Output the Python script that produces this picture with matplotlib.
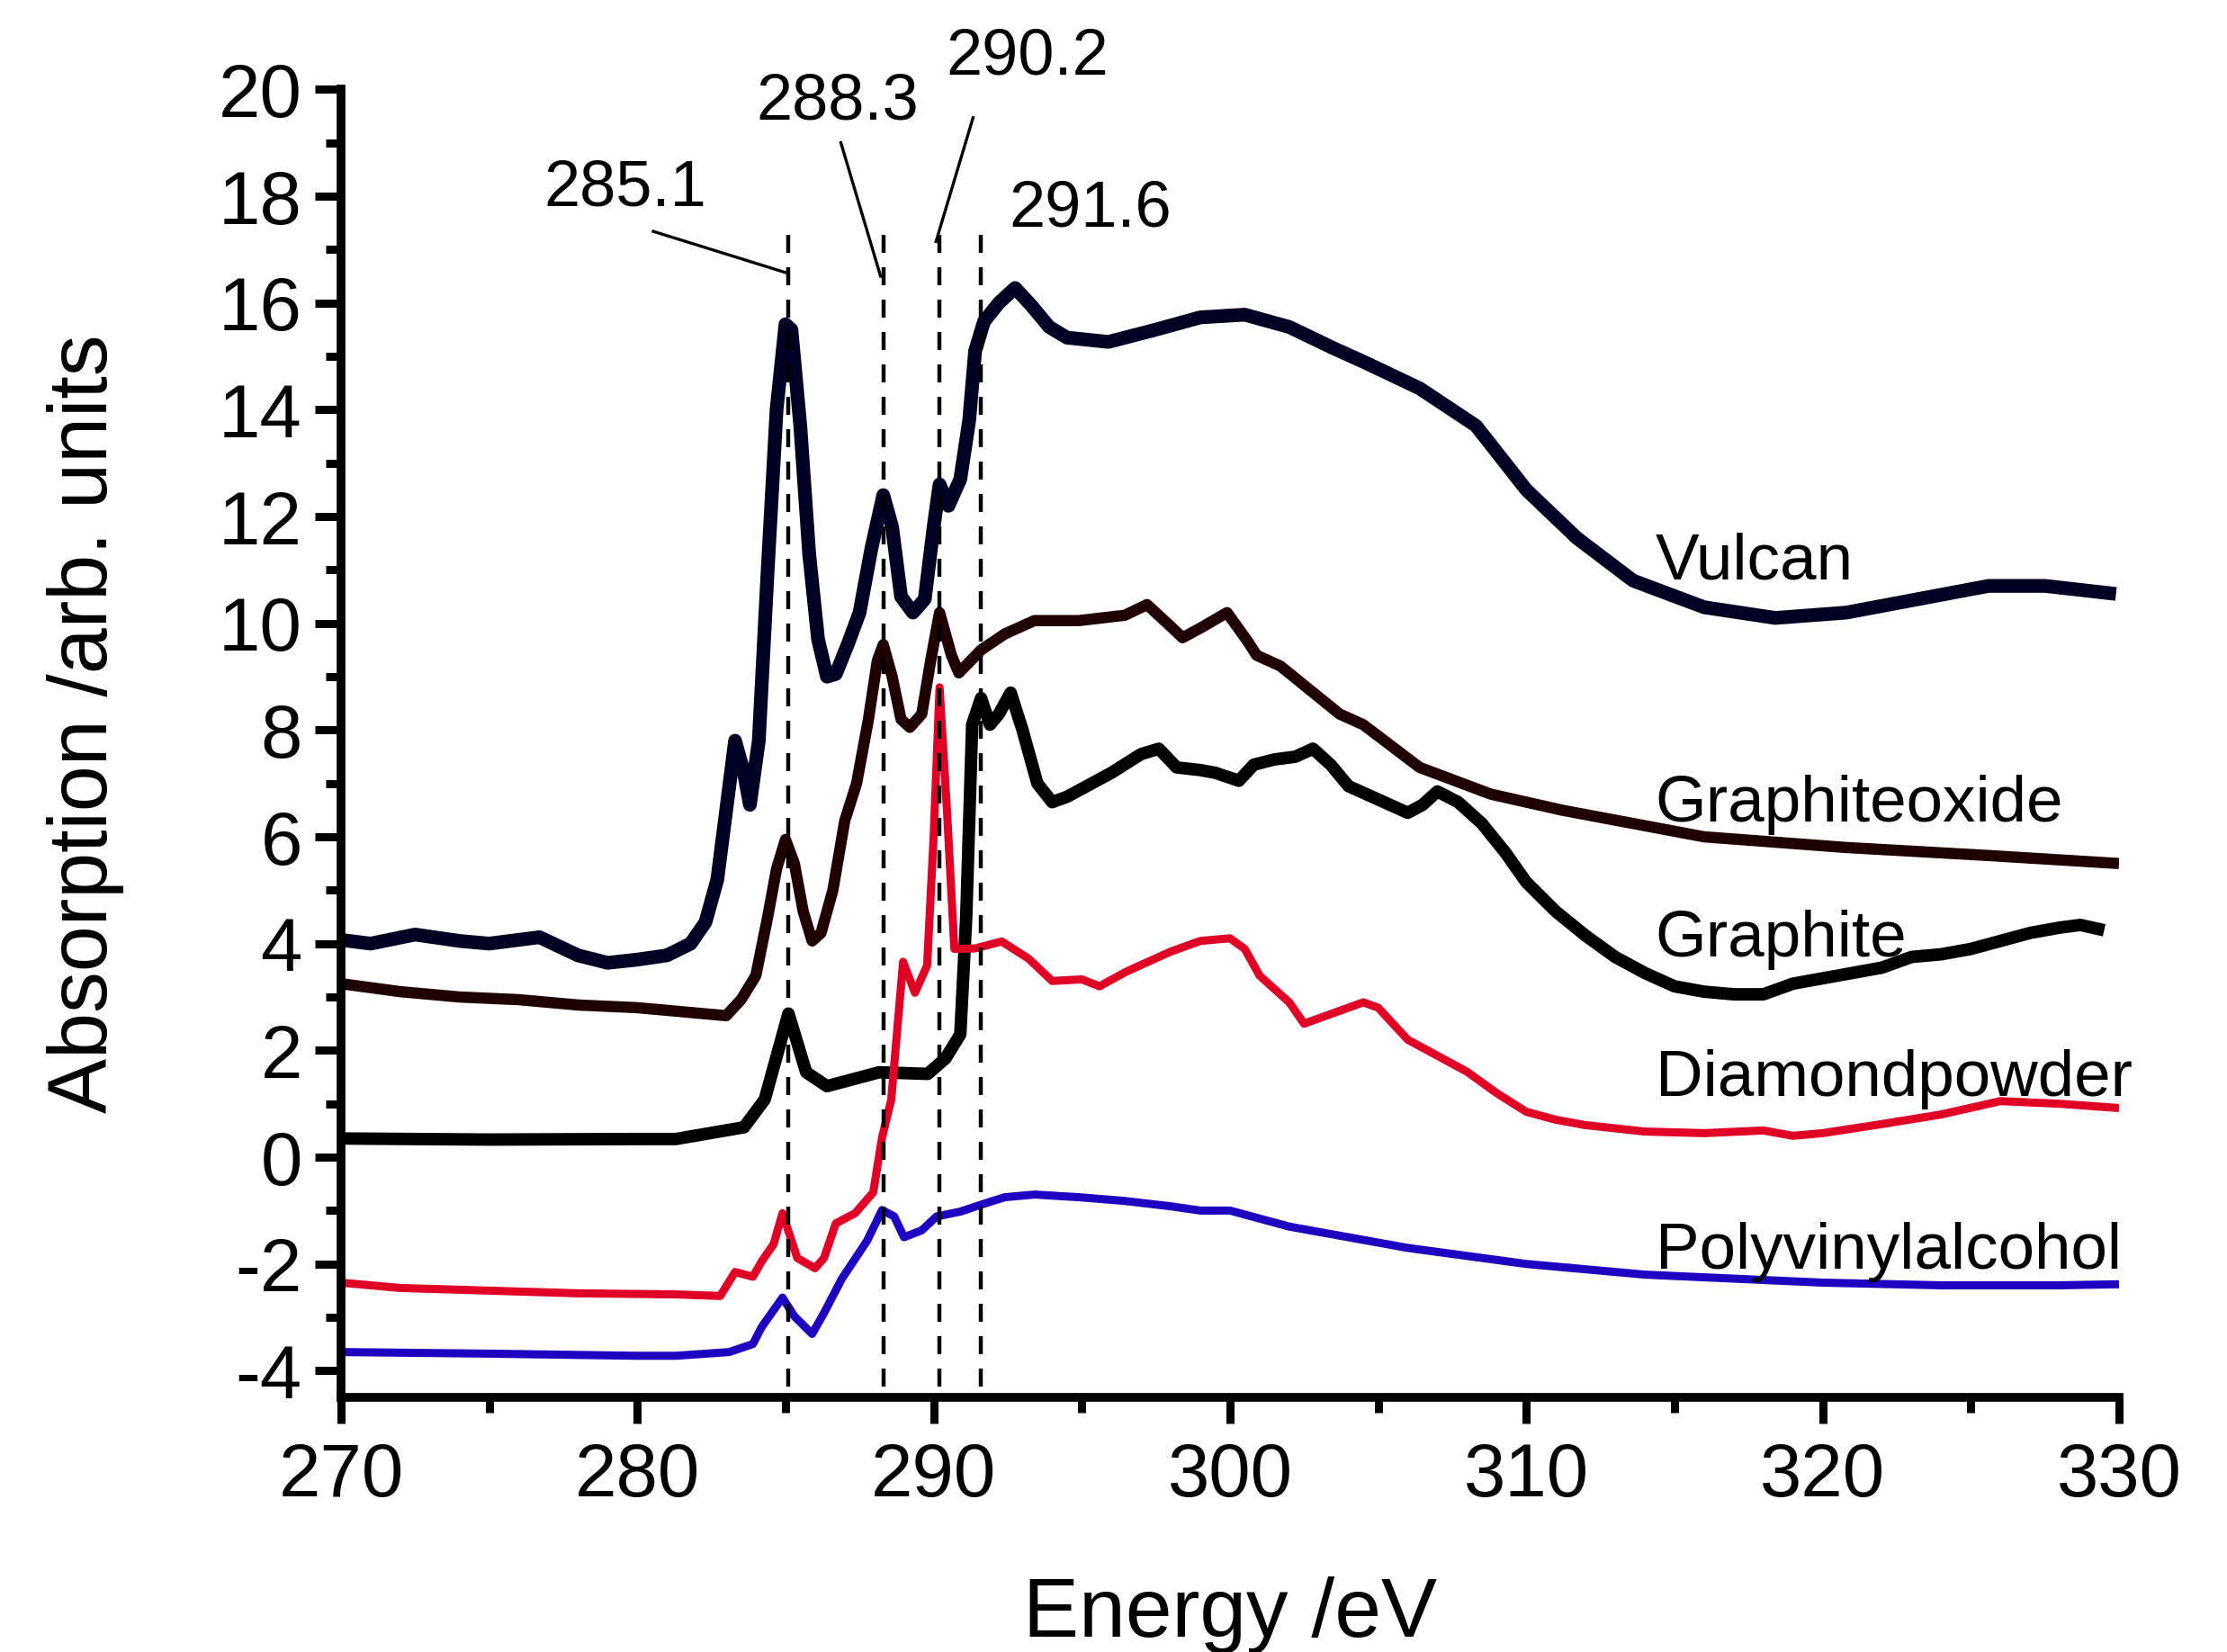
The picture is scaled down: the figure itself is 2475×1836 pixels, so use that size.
import matplotlib
matplotlib.use("Agg")
import matplotlib.pyplot as plt
from matplotlib.ticker import MultipleLocator

plt.rcParams['font.family'] = ['Liberation Sans', 'DejaVu Sans']
plt.rcParams['axes.unicode_minus'] = False

# spectra (energy in eV, absorption in arb. units)
vulcan_x = [270, 271, 272.5, 274, 275, 276.7, 278, 279, 280, 281, 281.8, 282.3, 282.7,
            283.0, 283.3, 283.6, 283.8, 284.1, 284.4, 284.7, 285.0, 285.2, 285.5, 285.8,
            286.1, 286.4, 286.7, 287.1, 287.5, 287.9, 288.3, 288.6, 288.9, 289.3, 289.7,
            290.0, 290.2, 290.5, 290.9, 291.2, 291.4, 291.7, 292.2, 292.75, 293.3, 293.9,
            294.5, 295.9, 297.5, 299.0, 300.5, 302.0, 303.5, 304.5, 306.4, 308.3, 310,
            311.7, 313.6, 316, 318.4, 320.8, 323.2, 325.6, 327.5, 329.9]
vulcan_y = [4.07, 4.0, 4.17, 4.05, 4.0, 4.12, 3.78, 3.64, 3.7, 3.78, 4.0, 4.4, 5.2,
            6.5, 7.8, 7.2, 6.6, 7.8, 11.0, 14.0, 15.6, 15.5, 13.7, 11.3,
            9.7, 9.0, 9.05, 9.6, 10.2, 11.4, 12.4, 11.8, 10.5, 10.2, 10.45,
            11.8, 12.6, 12.2, 12.7, 13.8, 15.1, 15.65, 16.0, 16.28, 15.95, 15.55,
            15.35, 15.27, 15.5, 15.73, 15.78, 15.55, 15.15, 14.9, 14.4, 13.7, 12.5,
            11.6, 10.8, 10.3, 10.1, 10.2, 10.45, 10.7, 10.7, 10.55]

go_x = [270, 272, 274, 276, 278, 280, 282, 283, 283.5, 284, 284.4, 284.7, 285.0, 285.3,
        285.6, 285.9, 286.2, 286.6, 287.0, 287.4, 287.8, 288.1, 288.3, 288.6, 288.9,
        289.2, 289.6, 289.9, 290.2, 290.6, 290.85, 291.6, 292.4, 293.4, 294.9, 296.45,
        297.2, 298.0, 298.4, 299.0, 299.9, 300.6, 300.9, 301.7, 302.7, 303.7, 304.5,
        306.4, 308.8, 311.2, 313.6, 316, 320.8, 325.6, 330]
go_y = [3.25, 3.1, 3.0, 2.95, 2.85, 2.8, 2.7, 2.65, 2.95, 3.4, 4.5, 5.4, 5.95, 5.5,
        4.6, 4.05, 4.2, 5.0, 6.3, 7.0, 8.2, 9.3, 9.6, 9.0, 8.2,
        8.05, 8.3, 9.3, 10.2, 9.4, 9.07, 9.5, 9.8, 10.05, 10.05, 10.15,
        10.35, 9.94, 9.73, 9.91, 10.2, 9.66, 9.4, 9.2, 8.75, 8.3, 8.1,
        7.3, 6.8, 6.5, 6.25, 6.0, 5.8, 5.65, 5.5]

graphite_x = [270, 275, 280, 281.3, 283.6, 284.3, 285.1, 285.7, 286.4, 288.16, 289.8,
              290.4, 290.9, 291.1, 291.3, 291.6, 291.9, 292.2, 292.6, 293.0, 293.5,
              294.0, 294.5, 295, 296, 297, 297.6, 298.2, 299, 299.5, 300.3, 300.8, 301.5,
              302.2, 302.8, 303.4, 304, 305, 306, 306.5, 307, 307.7, 308.5, 309.3, 310,
              311, 312, 313, 314, 315, 316, 317, 318, 319, 320, 321, 322, 323, 324, 325,
              326, 327, 328, 328.7, 329.5]
graphite_y = [0.35, 0.33, 0.34, 0.34, 0.56, 1.08, 2.69, 1.59, 1.33, 1.59, 1.56,
              1.85, 2.3, 4.5, 8.1, 8.6, 8.1, 8.3, 8.7, 8.0, 7.0,
              6.65, 6.75, 6.9, 7.2, 7.55, 7.65, 7.3, 7.25, 7.2, 7.05, 7.35, 7.45,
              7.5, 7.65, 7.35, 6.95, 6.7, 6.45, 6.6, 6.85, 6.65, 6.25, 5.7, 5.15,
              4.6, 4.15, 3.75, 3.45, 3.2, 3.1, 3.05, 3.05, 3.25, 3.35, 3.45, 3.55, 3.75, 3.8, 3.9,
              4.05, 4.2, 4.3, 4.35, 4.25]

diamond_x = [270, 272, 275, 278, 281.3, 282.8, 283.3, 283.9, 284.2, 284.6, 284.9, 285.4,
             286.0, 286.3, 286.7, 287.35, 287.96, 288.26, 288.57, 288.97, 289.37, 289.78,
             290.0, 290.2, 290.45, 290.7, 291.4, 292.3, 293.2, 294.0, 295.0, 295.6, 296.45,
             297, 298, 299, 300, 300.5, 301, 302, 302.5, 303, 304, 304.5, 305, 306, 307,
             308, 309, 310, 311, 312, 314, 316, 318, 319, 320, 322, 324, 326, 328, 330]
diamond_y = [-2.35, -2.45, -2.5, -2.55, -2.57, -2.6, -2.15, -2.24, -1.95, -1.63, -1.05, -1.89,
             -2.08, -1.89, -1.24, -1.05, -0.66, 0.37, 1.08, 3.66, 3.08, 3.59,
             6.0, 8.8, 6.5, 3.9, 3.91, 4.04, 3.72, 3.3, 3.33, 3.2, 3.46,
             3.6, 3.85, 4.05, 4.1, 3.9, 3.4, 2.9, 2.5, 2.6, 2.8, 2.9, 2.8, 2.2, 1.9,
             1.6, 1.2, 0.85, 0.7, 0.6, 0.48, 0.45, 0.5, 0.4, 0.45, 0.62, 0.8, 1.05, 1.0, 0.92]

pva_x = [270, 275, 280, 281.3, 283.1, 283.9, 284.2, 284.9, 285.3, 285.9, 286.3, 286.9,
         287.75, 288.26, 288.67, 289.0, 289.6, 290.1, 290.9, 291.6, 292.4, 293.4, 294.9,
         296.45, 298, 299, 300, 301, 302, 304, 306, 308, 310, 312, 314, 316, 318, 320,
         324, 328, 330]
pva_y = [-3.65, -3.68, -3.72, -3.72, -3.65, -3.5, -3.18, -2.63, -2.98, -3.31, -2.92, -2.28,
         -1.57, -0.99, -1.11, -1.5, -1.37, -1.11, -1.02, -0.89, -0.75, -0.7, -0.75,
         -0.82, -0.92, -1.0, -1.0, -1.15, -1.3, -1.5, -1.7, -1.85, -2.0, -2.1, -2.2, -2.25, -2.3, -2.35,
         -2.4, -2.4, -2.38]

series = [
    (vulcan_x, vulcan_y, '#000022', 11.0, 'Vulcan', 11.14),
    (go_x, go_y, '#200000', 9.0, 'Graphiteoxide', 6.6),
    (graphite_x, graphite_y, '#000000', 10.0, 'Graphite', 4.07),
    (diamond_x, diamond_y, '#e00025', 6.5, 'Diamondpowder', 1.46),
    (pva_x, pva_y, '#2000c0', 6.5, 'Polyvinylalcohol', -1.78),
]

peak_pos = [285.1, 288.3, 290.2, 291.6]
peak_top = [17.5, 17.5, 17.5, 17.3]
peak_text = ['285.1', '288.3', '290.2', '291.6']
text_xy = [(279.6, 18.14), (286.77, 19.76), (293.15, 20.6), (295.3, 17.74)]
leader = [((280.54, 17.34), (285.0, 16.57)),
          ((286.87, 19.0), (288.21, 16.5)),
          ((291.33, 19.47), (290.08, 17.15)),
          None]

fig = plt.figure(figsize=(24.75, 18.36), dpi=100)
ax = fig.add_axes([0.1531, 0.1541, 0.7984, 0.7918])

for x, y, c, lw, name, ly in series:
    ax.plot(x, y, color=c, lw=lw, solid_joinstyle='round', solid_capstyle='butt')
    ax.text(314.35, ly, name, fontsize=52.5, va='center', ha='left')

for p, top in zip(peak_pos, peak_top):
    ax.plot([p, p], [-4.3, top], color='black', lw=3.2, ls=(0, (4.5, 3.6)))

for (tx, ty), s, ld in zip(text_xy, peak_text, leader):
    ax.text(tx, ty, s, fontsize=52, ha='center', va='center', clip_on=False)
    if ld is not None:
        ax.plot([ld[0][0], ld[1][0]], [ld[0][1], ld[1][1]], color='black', lw=2.4,
                clip_on=False)

ax.set_xlim(270, 330)
ax.set_ylim(-4.5, 20)
ax.set_xticks(range(270, 331, 10))
ax.set_yticks(range(-4, 21, 2))
ax.xaxis.set_minor_locator(MultipleLocator(5))
ax.yaxis.set_minor_locator(MultipleLocator(1))
ax.tick_params(which='both', direction='out', width=6.5, labelsize=60)
ax.tick_params(which='major', length=21)
ax.tick_params(axis='x', which='major', pad=14)
ax.tick_params(axis='y', which='major', pad=10)
ax.tick_params(which='minor', length=12)

for s in ['top', 'right']:
    ax.spines[s].set_visible(False)
for s in ['left', 'bottom']:
    ax.spines[s].set_linewidth(7)

ax.set_xlabel('Energy /eV', fontsize=67, labelpad=52)
ax.set_ylabel('Absorption /arb. units', fontsize=66)
ax.yaxis.set_label_coords(-0.122, 0.515)

fig.savefig('out.png', dpi=100)
